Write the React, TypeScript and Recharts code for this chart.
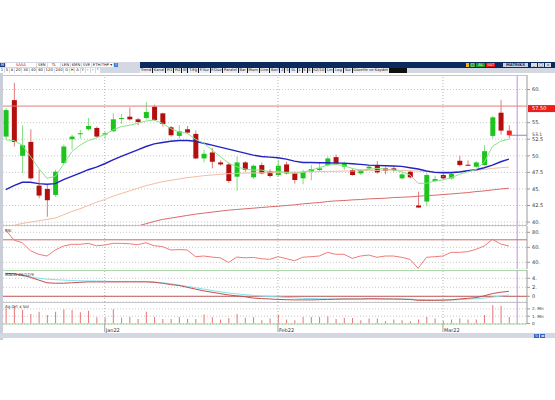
import React from "react";
import {
  ComposedChart,
  Bar,
  Line,
  XAxis,
  YAxis,
  CartesianGrid,
  ReferenceLine,
} from "recharts";

// daily candles, mid Dec 2021 .. Mar 11 2022
const opens = [
  52.9, 58.4, 50.0, 52.1, 45.5, 45.0, 44.1, 48.9, 52.5, 53.3,
  54.0, 54.2, 53.2, 53.7, 55.6, 55.9, 55.5, 55.7, 57.4, 56.4,
  54.3, 53.0, 54.0, 53.3, 49.6, 50.5, 49.0, 48.7, 46.85, 49.0,
  46.75, 48.6, 47.7, 47.1, 48.7, 47.35, 46.6, 47.6, 47.85, 48.6,
  49.8, 48.35, 47.85, 47.35, 48.1, 48.5, 48.1, 48.1, 46.6, 47.6,
  42.5, 43.1, 46.2, 47.1, 46.6, 49.25, 48.65, 48.35, 48.6, 53.0,
  56.5, 53.8,
];
const highs = [
  57.2, 61.0, 54.6, 54.0, 47.9, 45.6, 47.9, 51.7, 53.2, 53.9,
  55.7, 54.4, 53.6, 56.4, 56.3, 57.3, 55.7, 58.1, 57.7, 56.5,
  54.5, 54.6, 54.5, 53.8, 50.9, 51.2, 49.3, 49.0, 49.9, 49.2,
  48.7, 49.0, 48.0, 49.4, 49.1, 47.6, 47.9, 48.6, 49.1, 49.9,
  50.2, 49.1, 48.0, 48.0, 48.6, 49.2, 48.3, 48.4, 47.5, 47.8,
  44.6, 47.4, 47.0, 47.3, 47.5, 50.0, 49.3, 49.2, 51.6, 56.0,
  58.4, 54.6,
];
const lows = [
  52.5, 51.4, 47.4, 46.4, 43.6, 40.8, 43.8, 48.7, 50.9, 52.6,
  53.8, 52.8, 52.6, 53.6, 54.8, 55.3, 54.6, 55.5, 55.3, 54.4,
  52.9, 52.6, 53.3, 49.5, 49.0, 48.1, 48.5, 45.9, 44.7, 47.6,
  46.5, 47.2, 46.7, 46.8, 47.2, 45.8, 45.7, 46.3, 47.7, 48.4,
  48.7, 47.9, 47.0, 47.1, 47.9, 47.3, 47.2, 47.6, 46.4, 46.6,
  42.1, 42.4, 46.0, 46.4, 46.4, 48.4, 48.5, 48.2, 48.5, 52.6,
  53.2, 52.6,
];
const closes = [
  56.9, 52.1, 51.6, 46.6, 44.0, 43.3, 47.6, 51.4, 52.9, 53.4,
  54.5, 52.9, 53.4, 55.5, 55.7, 55.5, 55.1, 56.6, 55.4, 54.8,
  53.1, 53.7, 53.5, 49.6, 50.3, 49.1, 48.7, 46.2, 49.0, 47.9,
  48.5, 47.35, 46.95, 48.5, 47.35, 46.35, 47.6, 48.0, 48.1, 49.6,
  48.9, 48.9, 47.1, 47.85, 48.35, 47.5, 47.75, 47.85, 47.2, 46.75,
  42.2, 47.1, 46.5, 46.6, 47.25, 48.6, 48.55, 49.0, 50.7, 55.8,
  53.8, 53.1,
];

// moving averages
const maFast = [
  52.4, 52.3, 51.6, 49.9, 48.1, 46.6, 46.9, 48.7, 50.6, 51.6,
  52.3, 52.7, 53.2, 53.9, 54.4, 54.6, 54.9, 55.25, 55.4, 54.9,
  54.1, 53.6, 53.4, 52.5, 51.9, 50.9, 49.9, 48.9, 48.35, 48.0,
  47.85, 47.85, 47.6, 47.6, 47.5, 47.35, 47.5, 47.85, 48.2, 48.6,
  48.7, 48.5, 48.1, 47.85, 47.95, 48.1, 48.0, 47.85, 47.6, 47.1,
  45.85, 45.85, 46.2, 46.35, 46.7, 47.2, 47.6, 47.9, 49.0, 51.4,
  52.2, 52.5,
];
const maMid = [
  44.9, 45.5, 46.0, 46.0, 45.8, 45.7, 45.8, 46.4, 46.9, 47.4,
  47.9, 48.3, 48.8, 49.4, 49.9, 50.4, 50.9, 51.4, 51.8, 52.0,
  52.2, 52.3, 52.3, 52.2, 51.9, 51.6, 51.3, 51.0, 50.7, 50.4,
  50.1, 49.9, 49.8, 49.7, 49.5, 49.2, 49.0, 49.0, 48.95, 48.95,
  48.9, 48.9, 48.8, 48.7, 48.6, 48.55, 48.5, 48.45, 48.4, 48.2,
  48.0, 47.7, 47.5, 47.45, 47.45, 47.55, 47.75, 47.9, 48.2, 48.6,
  49.1, 49.5,
];
const maSlow = [
  null, 39.5, 39.8, 40.0, 40.2, 40.4, 40.6, 41.1, 41.6, 42.0,
  42.5, 43.0, 43.4, 43.9, 44.3, 44.7, 45.1, 45.5, 45.8, 46.1,
  46.3, 46.5, 46.7, 46.85, 47.0, 47.1, 47.2, 47.3, 47.35, 47.4,
  47.4, 47.45, 47.45, 47.5, 47.5, 47.55, 47.55, 47.6, 47.6, 47.65,
  47.65, 47.7, 47.7, 47.75, 47.8, 47.8, 47.85, 47.85, 47.8, 47.75,
  47.7, 47.65, 47.6, 47.6, 47.6, 47.65, 47.7, 47.8, 47.95, 48.1,
  48.2, 48.3,
];
const maLong = [
  null, null, null, null, null, null, null, null, null, null,
  null, null, null, null, null, null, 39.4, 39.75, 40.1, 40.4,
  40.6, 40.8, 41.0, 41.2, 41.35, 41.5, 41.65, 41.8, 41.9, 42.0,
  42.1, 42.2, 42.3, 42.4, 42.5, 42.6, 42.75, 42.85, 42.95, 43.1,
  43.2, 43.25, 43.35, 43.4, 43.5, 43.55, 43.6, 43.7, 43.75, 43.8,
  43.9, 44.0, 44.05, 44.15, 44.25, 44.35, 44.45, 44.6, 44.7, 44.85,
  45.0, 45.1,
];

const rsi = [
  83, 69.7, 66.1, 55.5, 50.6, 48.4, 56.4, 61.7, 64, 64,
  65.3, 62.1, 63, 65.3, 65.3, 64.7, 63.5, 66.1, 62.1, 61,
  56.4, 57, 56.4, 47.5, 48.4, 47, 46, 39.8, 47, 46,
  46.5, 44.8, 44, 47.5, 45, 42.1, 46.7, 47.5, 48.4, 53.3,
  50.7, 50.7, 45.3, 48.4, 49.7, 46.7, 48.4, 48.4, 46.7, 44,
  32, 46.7, 47.5, 48.4, 53.3, 53.3, 54.2, 57.3, 61.7, 70.7,
  64.4, 61.7,
];
const macd = [
  5.1, 5.0, 4.7, 4.2, 3.6, 3.0, 2.9, 2.9, 3.0, 3.1,
  3.2, 3.2, 3.2, 3.2, 3.2, 3.2, 3.2, 3.2, 3.1, 2.9,
  2.6, 2.4, 2.0, 1.6, 1.2, 0.9, 0.6, 0.3, 0.1, -0.1,
  -0.4, -0.5, -0.6, -0.7, -0.75, -0.8, -0.8, -0.8, -0.75, -0.7,
  -0.65, -0.6, -0.6, -0.6, -0.55, -0.55, -0.6, -0.6, -0.65, -0.7,
  -0.9, -0.9, -0.9, -0.85, -0.8, -0.6, -0.45, -0.3, 0.1, 0.6,
  0.9, 1.1,
];
const signal = [
  5.1, 4.9, 4.6, 4.3, 4.0, 3.8, 3.7, 3.6, 3.5, 3.45,
  3.4, 3.4, 3.35, 3.3, 3.3, 3.3, 3.3, 3.3, 3.2, 3.0,
  2.8, 2.5, 2.2, 1.9, 1.6, 1.3, 1.0, 0.75, 0.55, 0.35,
  0.2, 0.05, -0.05, -0.15, -0.25, -0.35, -0.45, -0.5, -0.55, -0.6,
  -0.6, -0.6, -0.6, -0.6, -0.6, -0.6, -0.6, -0.6, -0.6, -0.65,
  -0.7, -0.75, -0.8, -0.8, -0.8, -0.75, -0.65, -0.55, -0.4, -0.2,
  0.05, 0.3,
];
// volume in millions
const volume = [
  2.1, 2.4, 1.85, 1.3, 1.6, 1.15, 1.6, 1.95, 1.85, 1.55,
  1.75, 0.85, 0.8, 1.95, 0.8, 0.9, 0.6, 1.6, 0.9, 0.6,
  0.6, 0.9, 0.6, 0.6, 1.25, 0.85, 0.55, 0.75, 1.3, 0.8,
  0.85, 0.45, 0.7, 1.15, 0.55, 0.45, 0.9, 0.9, 0.9, 1.0,
  0.6, 0.75, 0.75, 0.45, 0.7, 0.7, 0.35, 0.55, 0.45, 0.3,
  0.55, 0.9, 0.7, 0.35, 0.55, 0.7, 0.55, 0.55, 1.15, 2.5,
  2.4, 0.9,
];

const monthTicks = [12, 33, 53];
const monthLabels = ["Jan22", "Feb22", "Mar22"];
const priceTicks = [40, 42.5, 45, 47.5, 50, 52.5, 55, 60];
const rsiTicks = [40, 60, 80];
const macdTicks = [0, 2, 4];
const volTicks = [0, 1, 2];
const alarmLevel = 57.5;
const lastPrice = 53.1;
const rsiLevel = 70;
const cursorIndex = 62;

const rows = opens.map((open, i) => ({
  i,
  open,
  high: highs[i],
  low: lows[i],
  close: closes[i],
  maFast: maFast[i],
  maMid: maMid[i],
  maSlow: maSlow[i],
  maLong: maLong[i],
  rsi: rsi[i],
  macd: macd[i],
  signal: signal[i],
  vol: volume[i],
}));

const W = 555;
const X_DOMAIN: [number, number] = [-0.33, 63.19];
const MARGIN = { top: 0, right: 0, bottom: 0, left: 3 };
const FONT = "DejaVu Sans, sans-serif";
const tickStyle = { fontSize: 5, fill: "#333", fontFamily: FONT };

const dotFmt = (v: number) => (v === 0 ? "0" : Number.isInteger(v) ? `${v}.` : `${v}`);
const volFmt = (v: number) => (v === 0 ? "0" : `${v}. Mn`);

function Candle(props: any) {
  const { x, y, width, height, payload } = props;
  if (x == null || !payload) return null;
  const { open, close, high, low, i } = payload;
  const up = close >= open;
  const ppu = height / (high - low);
  const top = y + (high - Math.max(open, close)) * ppu;
  const bot = y + (high - Math.min(open, close)) * ppu;
  const cx = x + width / 2;
  const last = i === opens.length - 1;
  const body = up ? "#1ec41e" : last ? "#ff1c1c" : "#b30f0f";
  const wick = up ? "#7fdc7f" : "#e07a7a";
  return (
    <g>
      <line x1={cx} x2={cx} y1={y} y2={y + height} stroke={wick} strokeWidth={1} />
      <rect x={x} y={top} width={width} height={Math.max(1, bot - top)} fill={body} />
    </g>
  );
}

function AlarmTag(props: any) {
  const vb = props.viewBox;
  if (!vb) return null;
  const x = vb.x + vb.width + 1;
  const y = vb.y - 1;
  return (
    <g>
      <rect x={x} y={y} width={27} height={7} fill="#ee1d1d" />
      <text x={x + 4} y={y + 5.4} fontSize={5} fill="#fff" fontFamily={FONT}>
        {alarmLevel.toFixed(2)}
      </text>
    </g>
  );
}

function LastTag(props: any) {
  const vb = props.viewBox;
  if (!vb) return null;
  return (
    <text x={vb.x + vb.width + 5} y={vb.y + 0.6} fontSize={4.6} fill="#333" fontFamily={FONT}>
      {lastPrice}
    </text>
  );
}

// plain svg text so "2. Mn" stays on one line
function VolTick(props: any) {
  const { x, y, payload } = props;
  return (
    <text x={x} y={y + 1.5} fontSize={4.2} fill="#333" fontFamily={FONT}>
      {volFmt(payload.value)}
    </text>
  );
}

function MonthTick(props: any) {
  const { x, y, payload } = props;
  const label = monthLabels[monthTicks.indexOf(payload.value)];
  return (
    <g>
      <line x1={x} x2={x} y1={y - 2} y2={y + 6} stroke="#777" strokeWidth={0.7} />
      <text x={x + 1} y={y + 5.5} fontSize={5} fill="#333" fontFamily={FONT}>
        {label}
      </text>
    </g>
  );
}

const hiddenX = () => (
  <XAxis dataKey="i" type="number" domain={X_DOMAIN} allowDataOverflow hide />
);

const rightY = (
  domain: [number, number],
  ticks: number[],
  fmt: (v: number) => string,
  tick: any = tickStyle
) => (
  <YAxis
    orientation="right"
    type="number"
    width={28}
    domain={domain}
    ticks={ticks}
    interval={0}
    allowDataOverflow
    tickFormatter={fmt}
    tick={tick}
    tickSize={3}
    tickMargin={2}
    axisLine={{ stroke: "#9a9a9a" }}
    tickLine={{ stroke: "#9a9a9a" }}
  />
);

const guides = () => [
  ...monthTicks.map((m) => (
    <ReferenceLine key={"m" + m} x={m} stroke="#b5b5b5" strokeDasharray="1 2" />
  )),
  <ReferenceLine key="cursor" x={cursorIndex} stroke="#c28fd6" />,
];

const grid = () => <CartesianGrid vertical={false} stroke="#c8c8c8" strokeDasharray="1 2" />;

function Btn({ children, bg = "#fff", color = "#222", w }: any) {
  return (
    <span
      style={{
        display: "inline-block",
        height: 4.5,
        minWidth: w,
        padding: "0 0.8px",
        marginRight: 1,
        background: bg,
        color,
        fontSize: 3.8,
        lineHeight: "4.5px",
        textAlign: "center",
        whiteSpace: "nowrap",
        verticalAlign: "top",
        boxSizing: "border-box",
      }}
    >
      {children}
    </span>
  );
}

const hline = (top: number, color: string) => (
  <div style={{ position: "absolute", left: 3, top, width: 524, height: 1, background: color }} />
);

export default function App() {
  return (
    <div
      style={{
        position: "absolute",
        left: 0,
        top: 0,
        width: W,
        height: 400,
        background: "#fff",
        overflow: "hidden",
        fontFamily: FONT,
      }}
    >
      {/* window toolbar */}
      <div style={{ position: "absolute", left: 0, top: 62, width: W, height: 5.5, background: "#0b2a5e" }}>
        <div style={{ position: "absolute", left: 0, top: 0, width: 140, height: 5.5, background: "#d3d8e2", paddingTop: 0.5, boxSizing: "border-box" }}>
          <Btn bg="#1e3f8a" color="#fff" w={4}>M</Btn>
          <Btn color="#c00" w={30}>SASA</Btn>
          <Btn w={10}>SEN</Btn>
          <Btn w={12}>TL</Btn>
          <Btn w={8}>LEN</Btn>
          <Btn w={9}>KMN</Btn>
          <Btn w={8}>SVE</Btn>
          <Btn w={14}>ETH/THP ▾</Btn>
          <Btn bg="#3a7fd8" color="#fff" w={4}>?</Btn>
        </div>
        <div style={{ position: "absolute", left: 466, top: 0.5, height: 4.5 }}>
          <Btn bg="#f2b31c" w={3}> </Btn>
          <Btn bg="#2d9b3c" color="#fff" w={3}>□</Btn>
          <Btn bg="#1f9a2e" color="#fff" w={9}>AL</Btn>
          <Btn bg="#d7141a" color="#fff" w={9}>SAT</Btn>
        </div>
        <div style={{ position: "absolute", left: 503, top: 0.5, width: 25, height: 4.5, background: "#c9d1e2", color: "#0b2a5e", fontSize: 3.8, lineHeight: "4.5px", textAlign: "center", fontWeight: 700 }}>
          MATRIKS
        </div>
        <div style={{ position: "absolute", left: 531, top: 0.5, height: 4.5 }}>
          <Btn bg="#d8dce6" w={6}>_</Btn>
          <Btn bg="#d8dce6" w={6}>□</Btn>
          <Btn bg="#d8dce6" w={6}>x</Btn>
        </div>
      </div>
      <div style={{ position: "absolute", left: 0, top: 67.5, width: W, height: 5.5, background: "#d3d8e2" }}>
        <div style={{ position: "absolute", left: 0, top: 0.5, width: 140, overflow: "hidden", whiteSpace: "nowrap" }}>
          {["1", "5", "8", "20", "30", "40", "60", "120", "240", "G", "H", "A", "Y", "‹", "›", "*"].map((t, k) => (
            <Btn key={k} w={4}>{t}</Btn>
          ))}
        </div>
        <div style={{ position: "absolute", left: 140, top: 0, width: 267, height: 5.5, background: "#111", overflow: "hidden", whiteSpace: "nowrap", paddingTop: 0.5, boxSizing: "border-box" }}>
          {["Trend", "Kanal", "Fi1", "Fi2", "Bl", "T.Eğ", "F.Yüz", "F.Düz", "Paralel", "Bar", "Mum", "Line", "Barl", "2", "5", "5L", "1", "5", "5", "S2/10", "Lin", "Log", "Yüz", "Gözetle ve Kaydet"].map((t, k) => (
            <Btn key={k} bg="#e9ecf2">{t}</Btn>
          ))}
        </div>
      </div>

      {/* left frame */}
      <div style={{ position: "absolute", left: 0, top: 73, width: 2.5, height: 267, background: "#c9ced8" }} />

      {/* price panel */}
      <div style={{ position: "absolute", left: 0, top: 75 }}>
        <ComposedChart width={W} height={150} data={rows} margin={MARGIN}>
          {grid()}
          {hiddenX()}
          {rightY([39.56, 62.19], priceTicks, dotFmt)}
          {guides()}
          <ReferenceLine y={alarmLevel} stroke="#e37c7c" label={<AlarmTag />} />
          <Line dataKey="maLong" stroke="#d96a6a" strokeWidth={1} dot={false} isAnimationActive={false} />
          <Line dataKey="maSlow" stroke="#f3bca4" strokeWidth={1} dot={false} isAnimationActive={false} />
          <Line dataKey="maMid" stroke="#2323c2" strokeWidth={1.4} dot={false} isAnimationActive={false} />
          <Line dataKey="maFast" stroke="#86e486" strokeWidth={1} dot={false} isAnimationActive={false} />
          <Bar
            dataKey={(d: any) => [d.low, d.high]}
            barSize={5}
            shape={(p: any) => <Candle {...p} />}
            isAnimationActive={false}
          />
          <ReferenceLine
            segment={[{ x: 61, y: lastPrice }, { x: X_DOMAIN[1], y: lastPrice }]}
            stroke="#8c8cb4"
            label={<LastTag />}
          />
        </ComposedChart>
      </div>
      {hline(74.5, "#a6dba6")}
      {hline(225, "#a6dba6")}

      {/* RSI panel */}
      <div style={{ position: "absolute", left: 0, top: 226 }}>
        <ComposedChart width={W} height={43} data={rows} margin={MARGIN}>
          {grid()}
          {hiddenX()}
          {rightY([31.1, 88.4], rsiTicks, dotFmt)}
          {guides()}
          <ReferenceLine y={rsiLevel} stroke="#c86a6a" />
          <Line dataKey="rsi" stroke="#ef7b7b" strokeWidth={1} dot={false} isAnimationActive={false} />
        </ComposedChart>
      </div>
      <div style={{ position: "absolute", left: 5, top: 227.5, fontSize: 4, color: "#333" }}>RSI</div>
      {hline(269.5, "#a6dba6")}

      {/* MACD panel */}
      <div style={{ position: "absolute", left: 0, top: 270 }}>
        <ComposedChart width={W} height={32} data={rows} margin={MARGIN}>
          {grid()}
          {hiddenX()}
          {rightY([-1.27, 5.84], macdTicks, dotFmt)}
          {guides()}
          <ReferenceLine y={0} stroke="#c45a5a" />
          <Line dataKey="signal" stroke="#7fe3ef" strokeWidth={1} dot={false} isAnimationActive={false} />
          <Line dataKey="macd" stroke="#c34e4e" strokeWidth={1} dot={false} isAnimationActive={false} />
        </ComposedChart>
      </div>
      <div style={{ position: "absolute", left: 5, top: 271.5, fontSize: 4, color: "#333" }}>MACD 26/12/9</div>
      {hline(301.5, "#c4c4c4")}

      {/* volume panel + time axis */}
      <div style={{ position: "absolute", left: 0, top: 302 }}>
        <ComposedChart width={W} height={32} data={rows} margin={MARGIN}>
          {grid()}
          <XAxis
            dataKey="i"
            type="number"
            domain={X_DOMAIN}
            allowDataOverflow
            ticks={monthTicks}
            interval={0}
            height={10}
            tickSize={0}
            tickMargin={2}
            axisLine={{ stroke: "#9fd79f" }}
            tickLine={false}
            tick={<MonthTick />}
          />
          {rightY([-0.07, 2.95], volTicks, volFmt, <VolTick />)}
          {guides()}
          <Bar dataKey="vol" barSize={1} fill="#e67474" isAnimationActive={false} />
        </ComposedChart>
      </div>
      <div style={{ position: "absolute", left: 5, top: 304, fontSize: 4, color: "#333" }}>Ag.Ort x Vol</div>

      {/* bottom status strip */}
      <div style={{ position: "absolute", left: 0, top: 333, width: W, height: 5, background: "#d3d8e2" }}>
        <div style={{ position: "absolute", left: 534, top: 0.5 }}>
          <Btn bg="#2f63c4" color="#fff" w={5}>↻</Btn>
          <Btn bg="#2f63c4" color="#fff" w={5}>◂▸</Btn>
        </div>
      </div>
    </div>
  );
}
